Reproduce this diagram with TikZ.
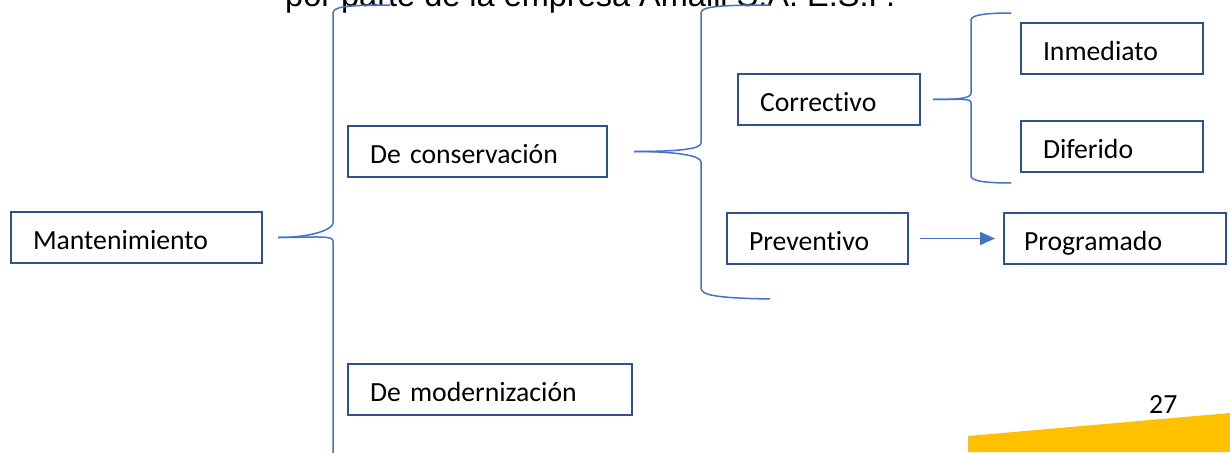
\documentclass[tikz,border=0pt]{standalone}
\usepackage{fontspec}
\setmainfont{Carlito}[Ligatures=NoCommon]
\newfontfamily\titlefont{Liberation Sans}
\usetikzlibrary{arrows.meta}
\definecolor{boxblue}{RGB}{47,82,143}
\definecolor{lineblue}{RGB}{68,114,196}
\definecolor{pageyellow}{RGB}{255,192,0}

\tikzset{
  caja/.style={draw=boxblue, line width=2pt, anchor=north west, inner xsep=22pt, inner ysep=0pt,
    text height=37pt, text depth=14pt, align=left, font=\fontsize{27.7}{33}\selectfont},
  llave/.style={draw=lineblue, line width=1.5pt},
}

\begin{document}
\begin{tikzpicture}[x=1pt,y=-1pt]
    \useasboundingbox (0,0) rectangle (1230,452);
    \clip (0,0) rectangle (1230,452);

    % Title (cut at the top)
    \node[anchor=base west, inner sep=0pt, font=\titlefont\fontsize{32.5}{39}\selectfont] (titulo) at (285,7) {por parte de la empresa Amalli S.A. E.S.P.};

    % Boxes
    \node[caja, text width=207pt] (mant) at (10,211) {Mantenimiento};
    \node[caja, text width=215pt] (cons) at (347,125) {De conservación};
    \node[caja, text width=240pt] (mode) at (347,363) {De modernización};
    \node[caja, text width=138pt] (corr) at (737,73) {Correctivo};
    \node[caja, text width=137pt] (prev) at (726,212) {Preventivo};
    \node[caja, text width=182pt, inner xsep=20pt] (prog) at (1003,212) {Programado};
    \node[caja, text width=138pt] (inme) at (1020,22) {Inmediato};
    \node[caja, text width=138pt] (dife) at (1020,120) {Diferido};

    % Brace Mantenimiento
    \draw[llave] ([xshift=15pt]mant.east) .. controls +(35,0) and +(0,6) .. (333,223) -- (333,13)
        .. controls (333,7) and (345,5) .. (390,5);
    \draw[llave] ([xshift=15pt]mant.east) .. controls +(35,0) and +(0,-6) .. (333,241) -- (333,460);

    % Brace De conservacion
    \draw[llave] ([xshift=26pt]cons.east) .. controls +(45,0) and +(0,6) .. (701,143) -- (701,13)
        .. controls (701,7) and (715,5) .. (770,5);
    \draw[llave] ([xshift=26pt]cons.east) .. controls +(45,0) and +(0,-6) .. (701,162) -- (701,288)
        .. controls (701,295) and (715,298) .. (770,299);

    % Brace Correctivo
    \draw[llave] ([xshift=12pt]corr.east) .. controls +(28,0) and +(0,5) .. (971,93) -- (971,20)
        .. controls (971,15) and (985,13) .. (1011,13);
    \draw[llave] ([xshift=12pt]corr.east) .. controls +(28,0) and +(0,-5) .. (971,103) -- (971,176)
        .. controls (971,181) and (985,183) .. (1011,183);

    % Arrow
    \draw[llave, -{Triangle[length=15pt,width=13pt]}] ([xshift=11pt]prev.east) -- ([xshift=-8pt]prog.west);

    % Page number
    \fill[pageyellow] (968,452) -- (968,436) -- (1230,413) -- (1230,452) -- cycle;
    \node[anchor=base west, inner sep=0pt, font=\fontsize{27.7}{33}\selectfont] (pagina) at (1149,413) {27};
\end{tikzpicture}
\end{document}
